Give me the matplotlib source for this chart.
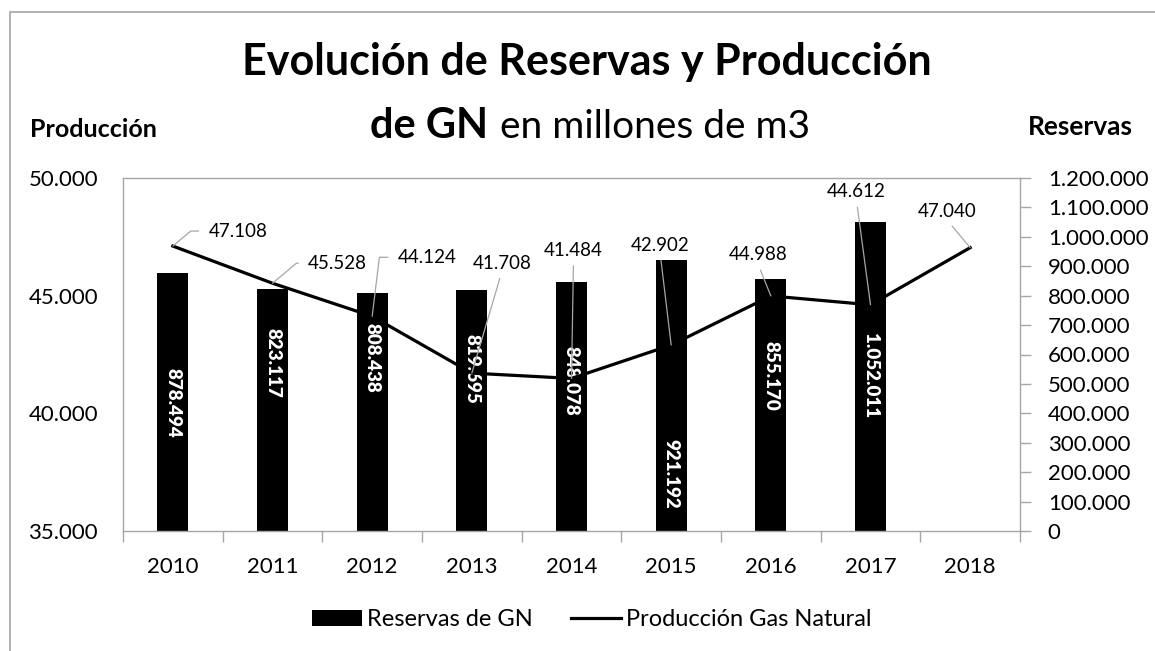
import numpy as np
import matplotlib
matplotlib.use("Agg")
import matplotlib.pyplot as plt
from matplotlib.lines import Line2D
from matplotlib.patches import Patch, Rectangle
from matplotlib.ticker import FixedLocator, FuncFormatter, NullFormatter

plt.rcParams['font.family'] = ['Lato', 'DejaVu Sans']

# datos
years = ['2010', '2011', '2012', '2013', '2014', '2015', '2016', '2017', '2018']
reservas = [878494, 823117, 808438, 819695, 848078, 921192, 855170, 1052011]
produccion = [47108, 45528, 44124, 41708, 41484, 42902, 44988, 44612, 47040]

# posicion de las etiquetas de las barras (en unidades del eje de reservas)
bar_lbl_pos = [437000, 573000, 590000, 551000, 510000, 194000, 527000, 530000]
# desplazamiento (px) de las etiquetas de produccion respecto al punto
line_lbl_off = [(65, 15), (65, 20), (55, 59), (30, 110), (2, 128),
                (-11, 100), (-13, 41), (-14, 113), (-23, 36)]
elbow_angle = {0: 40, 1: 40, 2: 83}

prod_lim = (35000, 50000)
res_lim = (0, 1200000)
gris = '#a6a6a6'


def miles(v, pos=None):
    return f"{v:,.0f}".replace(",", ".")


def prod_a_res(p):
    return (p - prod_lim[0]) / (prod_lim[1] - prod_lim[0]) * (res_lim[1] - res_lim[0])


W, H = 1155, 651
fig = plt.figure(figsize=(W / 100, H / 100), dpi=100)


def fx(px):
    return px / W


def fy(py):
    return 1 - py / H


# marco exterior
fig.add_artist(Rectangle((fx(10), -0.5), 2, fy(12) + 0.5, transform=fig.transFigure,
                         fill=False, edgecolor=gris, lw=1.2))

ax_r = fig.add_axes([fx(123), fy(531), fx(1020) - fx(123), fy(178) - fy(531)])
ax_l = ax_r.twinx()

x = np.arange(len(years))

# barras de reservas (eje derecho)
ax_r.bar(x[:len(reservas)], reservas, width=0.31, color='black', zorder=2)
ax_r.set_ylim(*res_lim)
ax_r.set_xlim(-0.5, len(years) - 0.5)
ax_r.yaxis.tick_right()
ax_r.yaxis.set_major_locator(FixedLocator(np.arange(0, 1200001, 100000)))
ax_r.yaxis.set_major_formatter(FuncFormatter(miles))
ax_r.tick_params(axis='y', which='major', length=8, width=1, color=gris,
                 pad=12, labelsize=16)
# lineas de division a la altura de los valores de produccion
ax_r.yaxis.set_minor_locator(FixedLocator([prod_a_res(40000), prod_a_res(45000)]))
ax_r.tick_params(axis='y', which='minor', length=0)
ax_r.grid(True, which='minor', axis='y', color=gris, lw=1)

ax_r.xaxis.set_major_locator(FixedLocator(np.arange(-0.5, len(years), 1)))
ax_r.xaxis.set_major_formatter(NullFormatter())
ax_r.set_xticks(x, years, minor=True)
ax_r.tick_params(axis='x', which='major', length=8, width=1, color=gris)
ax_r.tick_params(axis='x', which='minor', length=0, pad=19, labelsize=16)
for s in ax_r.spines.values():
    s.set_color(gris)
    s.set_linewidth(1)

for i, r in enumerate(reservas):
    ax_r.text(i, bar_lbl_pos[i], miles(r), rotation=-90, ha='center', va='center',
              color='white', fontweight='heavy', fontsize=13.5)

# linea de produccion (eje izquierdo)
ax_l.plot(x, produccion, color='black', lw=2.3, zorder=3)
ax_l.set_ylim(*prod_lim)
ax_l.yaxis.tick_left()
ax_l.yaxis.set_major_locator(FixedLocator([35000, 40000, 45000, 50000]))
ax_l.yaxis.set_major_formatter(FuncFormatter(miles))
ax_l.tick_params(axis='y', length=0, pad=18, labelsize=16)
for s in ax_l.spines.values():
    s.set_visible(False)

for i, v in enumerate(produccion):
    if i in elbow_angle:
        arrow = dict(arrowstyle='-', color=gris, lw=0.9, shrinkA=5, shrinkB=0,
                     relpos=(0, 0.5),
                     connectionstyle=f'angle,angleA=0,angleB={elbow_angle[i]},rad=0')
    else:
        arrow = dict(arrowstyle='-', color=gris, lw=0.9, shrinkA=3, shrinkB=0,
                     relpos=(0.5, 0))
    ax_l.annotate(miles(v), xy=(i, v), xytext=line_lbl_off[i], textcoords='offset pixels',
                  ha='center', va='center', fontsize=13.5, arrowprops=arrow, zorder=4)

# titulos
fig.text(fx(587), fy(75), 'Evolución de Reservas y Producción', ha='center', va='baseline',
         fontsize=31, fontweight='bold')
t1 = fig.text(fx(370), fy(138), 'de GN', ha='left', va='baseline', fontsize=30,
              fontweight='bold')
bb = t1.get_window_extent(fig.canvas.get_renderer())
fig.text(fx(bb.x1 + 12), fy(138), 'en millones de m3', ha='left', va='baseline', fontsize=28)

fig.text(fx(30), fy(137), 'Producción', ha='left', va='baseline', fontsize=18,
         fontweight='bold')
fig.text(fx(1028), fy(135), 'Reservas', ha='left', va='baseline', fontsize=19,
         fontweight='bold')

# leyenda
handles = [Patch(facecolor='black'), Line2D([], [], color='black', lw=2.3)]
fig.legend(handles, ['Reservas de GN', 'Producción Gas Natural'], loc='center',
           bbox_to_anchor=(fx(592), fy(620)), ncol=2, frameon=False, fontsize=17,
           handlelength=2.1, handleheight=0.65, handletextpad=0.25, columnspacing=1.6)

fig.savefig('out.png', dpi=100)
